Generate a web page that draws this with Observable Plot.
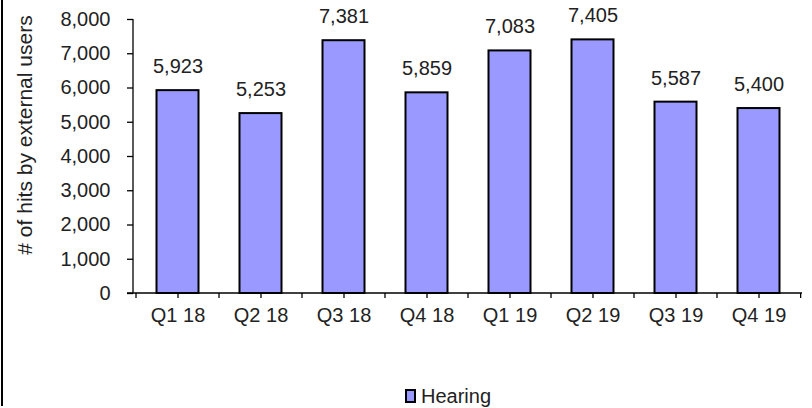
<!DOCTYPE html>
<html>
<head>
<meta charset="utf-8">
<script src="https://cdn.jsdelivr.net/npm/d3@7"></script>
<script src="https://cdn.jsdelivr.net/npm/@observablehq/plot@0.6"></script>
<style>
  body { margin: 0; background: #fff; }
  #wrap { position: relative; width: 812px; height: 408px; font-family: "Liberation Sans", Arial, sans-serif; color: #222; }
  #border { position: absolute; left: 1px; top: 0; width: 2px; height: 406px; background: #000; }
  #legend { position: absolute; left: 0; top: 370px; width: 812px; height: 38px; }
  #legend .sw { position: absolute; left: 405px; top: 19px; width: 7px; height: 10px; background: #9999ff; border: 2px solid #000; }
  #legend .lb { position: absolute; left: 421px; top: 14px; font-size: 20px; line-height: 24px; color: #222; }
</style>
</head>
<body>
<div id="wrap">
  <div id="chart"></div>
  <div id="border"></div>
  <div id="legend"><span class="sw"></span><span class="lb">Hearing</span></div>
</div>
<script>
const categories = ["Q1 18", "Q2 18", "Q3 18", "Q4 18", "Q1 19", "Q2 19", "Q3 19", "Q4 19"];
const hearing = [5923, 5253, 7381, 5859, 7083, 7405, 5587, 5400];
const yTicks = [0, 1000, 2000, 3000, 4000, 5000, 6000, 7000, 8000];
const yTitle = "# of hits by external users";
const seriesName = "Hearing";

const data = categories.map((c, i) => ({quarter: c, value: hearing[i]}));
const fmt = d3.format(",");

const W = 812, H = 370, ML = 133, MR = 10, MT = 19, MB = 77;

function frameLines(index, scales, values, dims) {
  const g = d3.create("svg:g");
  const x0 = dims.marginLeft, x1 = dims.width - dims.marginRight;
  const y0 = dims.height - dims.marginBottom, yTop = dims.marginTop;
  const step = (x1 - x0) / categories.length;
  g.append("line").attr("x1", x0).attr("x2", x0).attr("y1", yTop).attr("y2", y0)
    .attr("stroke", "#000").attr("stroke-width", 1.3);
  g.append("line").attr("x1", x0 - 6).attr("x2", x1).attr("y1", y0).attr("y2", y0)
    .attr("stroke", "#000").attr("stroke-width", 1.3);
  for (let i = 0; i <= categories.length; i++) {
    const bx = i < categories.length ? scales.x(categories[i]) : scales.x(categories[i - 1]) + step;
    g.append("line").attr("x1", bx).attr("x2", bx).attr("y1", y0).attr("y2", y0 + 5)
      .attr("stroke", "#000").attr("stroke-width", 1.3);
  }
  g.append("text").attr("transform", `translate(32,135) rotate(-90)`)
    .attr("text-anchor", "middle").attr("font-size", 21).attr("fill", "#222")
    .text(yTitle);
  return g.node();
}

const chart = Plot.plot({
  width: W, height: H,
  marginLeft: ML, marginRight: MR, marginTop: MT, marginBottom: MB,
  style: {fontFamily: "Liberation Sans, Arial, sans-serif", fontSize: "20px", color: "#222", background: "#fff"},
  x: {domain: categories, padding: 0, label: null},
  y: {domain: [0, 8000], label: null},
  marks: [
    Plot.barY(data, {x: "quarter", y: "value", fill: "#9999ff", stroke: "#000", strokeWidth: 2, insetLeft: 20.5, insetRight: 20.5}),
    Plot.text(data, {x: "quarter", y: "value", text: d => fmt(d.value), dy: -24, fontSize: 20, fill: "#222"}),
    Plot.axisY({ticks: yTicks, tickFormat: fmt, tickSize: 6, tickPadding: 17, stroke: "#000", strokeWidth: 1.3, fontSize: 20, label: null}),
    Plot.axisX({tickSize: 5, tickPadding: 9, stroke: "#000", strokeWidth: 1.3, fontSize: 20, label: null}),
    frameLines
  ]
});
document.getElementById("chart").appendChild(chart);
</script>
</body>
</html>
